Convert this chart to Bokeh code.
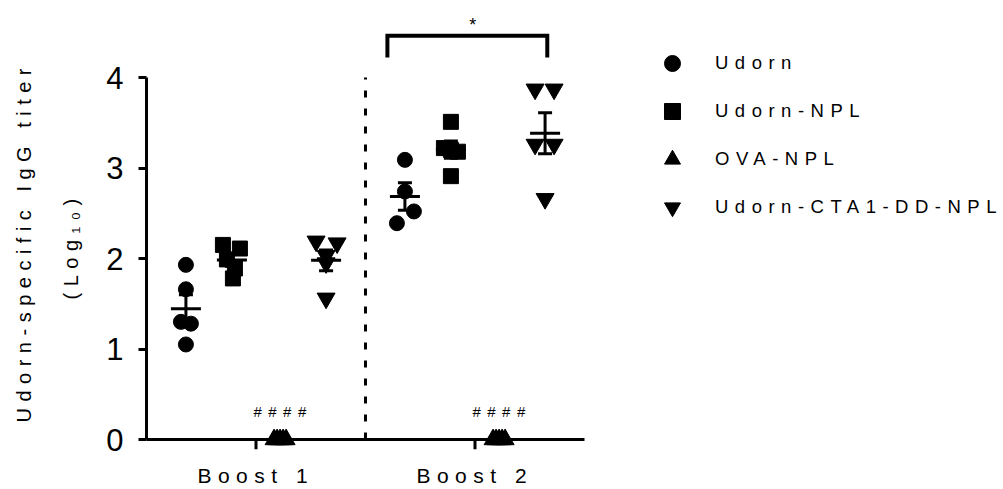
import numpy as np
from bokeh.plotting import figure
from bokeh.models import (ColumnDataSource, Range1d, FixedTicker, Legend, LegendItem, Title)
from bokeh.embed import file_html
from bokeh.resources import INLINE
from bokeh.core.properties import value

# ---------------- data ----------------
boost_labels = ["Boost 1", "Boost 2"]
boost_pos = [1, 2]
group_names = ["Udorn", "Udorn-NPL", "OVA-NPL", "Udorn-CTA1-DD-NPL"]

udorn_b1 = [1.93, 1.66, 1.30, 1.28, 1.05]
udorn_b2 = [3.09, 2.74, 2.52, 2.39]
npl_b1 = [2.15, 2.11, 1.99, 1.89, 1.78]
npl_b2 = [3.51, 3.22, 3.20, 3.18, 2.91]
ova_b1 = [0, 0, 0, 0, 0]
ova_b2 = [0, 0, 0, 0, 0]
cta_b1 = [2.19, 2.17, 2.03, 1.95, 1.56]
cta_b2 = [3.87, 3.87, 3.26, 3.26, 2.66]

y_ticks = [0, 1, 2, 3, 4]
sig_text = "*"
hash_text = "####"
y_title = "Udorn-specific IgG titer"
y_unit = "(Log\u2081\u2080)"

# ---------------- layout / style ----------------
FONT = "Liberation Sans"
W, H = 1003, 489
LEFT, TOP, BOTTOM = 146, 9, 40
PX_X = 219.0            # px per x unit
PX_Y = 90.5             # px per y unit
frame_h = H - TOP - BOTTOM
Y1 = (439 - TOP) / PX_Y
Y0 = Y1 - frame_h / PX_Y
group_offsets = [-0.32, -0.11, 0.11, 0.32]
LABEL_SHIFT = -0.105    # compensates letter-spaced tick label centring
# horizontal scatter spread (px) so overlapping points stay visible
jit = {
    "udorn_b1": [0, 0, -5, 5, 0], "udorn_b2": [0, 0, 9, -8],
    "npl_b1": [-9, 8, -5, 3, 1], "npl_b2": [0, -7, 0, 7, 0],
    "ova_b1": [-6, -3, 0, 3, 6], "ova_b2": [-6, -3, 0, 3, 6],
    "cta_b1": [-10, 11, 0, 0, 0], "cta_b2": [-10, 9, -10, 9, 0],
}

p = figure(width=W, height=H, output_backend="svg", toolbar_location=None,
           x_range=Range1d(0.5, 0.5 + (W - LEFT) / PX_X), y_range=Range1d(Y0, Y1),
           min_border_left=LEFT, min_border_top=TOP, min_border_right=0,
           min_border_bottom=BOTTOM)
p.styles = {"letter-spacing": "6.5px"}
p.outline_line_color = None
p.grid.visible = False
p.background_fill_color = "white"

series = [
    ("circle", [("udorn_b1", udorn_b1, 1), ("udorn_b2", udorn_b2, 2)], 15),
    ("square", [("npl_b1", npl_b1, 1), ("npl_b2", npl_b2, 2)], 15),
    ("triangle", [("ova_b1", ova_b1, 1), ("ova_b2", ova_b2, 2)], 18),
    ("inverted_triangle", [("cta_b1", cta_b1, 1), ("cta_b2", cta_b2, 2)], 18),
]

renderers = []
mx0, mx1, my = [], [], []
ex, ey0, ey1 = [], [], []
cx0, cx1, cy = [], [], []
for gi, (marker, sets, size) in enumerate(series):
    X, Y = [], []
    for key, vals, b in sets:
        xc = b + group_offsets[gi]
        X += [xc + j / PX_X for j in jit[key]]
        Y += list(vals)
        arr = np.array(vals, dtype=float)
        m = arr.mean()
        sem = arr.std(ddof=1) / np.sqrt(len(arr))
        mx0.append(xc - 15 / PX_X); mx1.append(xc + 15 / PX_X); my.append(m)
        ex.append(xc); ey0.append(m - sem); ey1.append(m + sem)
        for yy in (m - sem, m + sem):
            cx0.append(xc - 7 / PX_X); cx1.append(xc + 7 / PX_X); cy.append(yy)
    src = ColumnDataSource(dict(x=X, y=Y))
    r = p.scatter("x", "y", source=src, marker=marker, size=size,
                  fill_color="black", line_color="black", line_width=1)
    renderers.append(r)

# mean and SEM bars
p.segment(x0=mx0, y0=my, x1=mx1, y1=my, line_color="black", line_width=3)
p.segment(x0=ex, y0=ey0, x1=ex, y1=ey1, line_color="black", line_width=3)
p.segment(x0=cx0, y0=cy, x1=cx1, y1=cy, line_color="black", line_width=3)

# x axis baseline at y = 0 and its tick marks
p.segment(x0=[0.5 - 1.5 / PX_X], y0=[0], x1=[2.5], y1=[0], line_color="black", line_width=3)
p.segment(x0=boost_pos, y0=[0] * 2, x1=boost_pos, y1=[-10 / PX_Y] * 2,
          line_color="black", line_width=3)

# dashed separator
p.segment(x0=[1.5], y0=[0], x1=[1.5], y1=[4], line_color="black", line_width=3,
          line_dash="7 11")

# significance bracket
p.line(x=[1.60, 1.60, 2.33, 2.33], y=[4.22, 4.46, 4.46, 4.22], line_color="black",
       line_width=4, line_join="miter")
p.text(x=[1.99], y=[4.58], text=[sig_text], text_font=value(FONT), text_font_size="18px",
       text_align="center", text_baseline="middle", text_color="black")
p.text(x=[1 + group_offsets[2], 2 + group_offsets[2]], y=[0.31, 0.31], text=[hash_text] * 2,
       text_font=value(FONT), text_font_size="15px", text_align="center",
       text_baseline="middle", text_color="black", x_offset=-10)

# y axis
yax = p.yaxis[0]
yax.bounds = (0, 4)
yax.ticker = FixedTicker(ticks=y_ticks)
yax.minor_tick_line_color = None
yax.major_tick_in = 0
yax.major_tick_out = 8
yax.major_tick_line_width = 3
yax.axis_line_width = 3
yax.major_label_text_font = FONT
yax.major_label_text_font_size = "31px"
yax.major_label_text_color = "black"
yax.major_label_standoff = 15

# y axis title, two lines
p.add_layout(Title(text=y_unit, align="left", offset=150, standoff=43,
                   text_font=FONT, text_font_size="20px", text_font_style="normal",
                   text_color="black"), "left")
p.add_layout(Title(text=y_title, align="left", offset=27, standoff=3,
                   text_font=FONT, text_font_size="20px", text_font_style="normal",
                   text_color="black"), "left")

# x axis (labels; baseline and ticks drawn at y = 0 above)
lab_ticks = [b + LABEL_SHIFT for b in boost_pos]
xax = p.xaxis[0]
xax.ticker = FixedTicker(ticks=lab_ticks)
xax.major_label_overrides = {t: l for t, l in zip(lab_ticks, boost_labels)}
xax.axis_line_color = None
xax.major_tick_line_color = None
xax.minor_tick_line_color = None
xax.major_tick_in = 0
xax.major_tick_out = 0
xax.major_label_text_font = FONT
xax.major_label_text_font_size = "21px"
xax.major_label_text_color = "black"
xax.major_label_standoff = 14

legend = Legend(items=[LegendItem(label=n, renderers=[r]) for n, r in zip(group_names, renderers)],
                location=(506, 222), orientation="vertical",
                glyph_width=40, glyph_height=40, spacing=8, label_standoff=23,
                padding=0, margin=0, border_line_color=None, background_fill_alpha=0,
                label_text_font=FONT, label_text_font_size="18.5px", label_text_color="black")
p.add_layout(legend)

open("out.html", "w").write(file_html(p, INLINE))
